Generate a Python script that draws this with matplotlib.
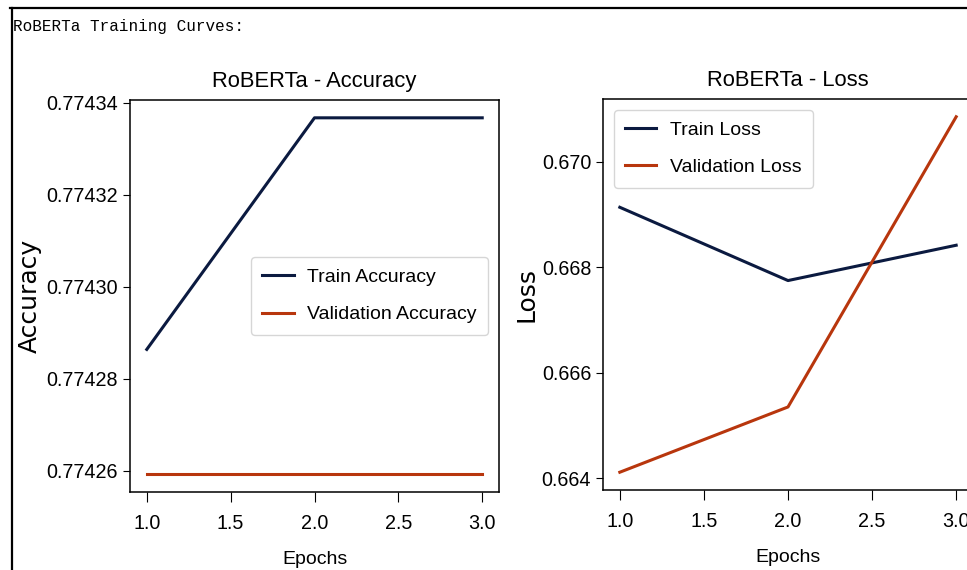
# -*- coding: utf-8 -*-
# RoBERTa training curves - accuracy and loss per epoch

import matplotlib
matplotlib.use('Agg')
import matplotlib.pyplot as plt
from matplotlib.lines import Line2D
from matplotlib.ticker import MultipleLocator, FormatStrFormatter

epochs = [1, 2, 3]

train_acc = [0.7742864, 0.7743367, 0.7743367]
val_acc = [0.7742593, 0.7742593, 0.7742593]

train_loss = [0.66914, 0.66775, 0.66842]
val_loss = [0.664114, 0.665352, 0.670857]

navy = '#0b1a40'
rust = '#b8360d'

plt.rcParams['font.family'] = ['Liberation Sans', 'DejaVu Sans']
plt.rcParams['font.size'] = 14

W, H = 967, 570
fig = plt.figure(figsize=(W / 100, H / 100), dpi=100)

# axes placed in pixel terms (right panel is cut off like the screenshot)
ax1 = fig.add_axes([130 / W, 1 - 492 / H, 369 / W, 392 / H])
ax2 = fig.add_axes([603 / W, 1 - 490 / H, 370 / W, 391 / H])

leg_kw = dict(handlelength=1.6, handletextpad=0.7, fontsize=14, labelspacing=1.0,
              borderpad=0.6, borderaxespad=0.55)

ax1.plot(epochs, train_acc, color=navy, lw=2.2, label='Train Accuracy')
ax1.plot(epochs, val_acc, color=rust, lw=2.2, label='Validation Accuracy')
ax1.set_title('RoBERTa - Accuracy', fontsize=15.8, pad=9)
ax1.set_xlabel('Epochs', fontsize=14, labelpad=13)
ax1.set_ylabel('Accuracy', fontsize=18, family='DejaVu Sans')
ax1.yaxis.set_major_locator(MultipleLocator(0.00002))
ax1.yaxis.set_major_formatter(FormatStrFormatter('%.5f'))
ax1.legend(loc='center right', **leg_kw)
ax1.yaxis.set_label_coords(-0.2385, 0.5)

ax2.plot(epochs, train_loss, color=navy, lw=2.2, label='Train Loss')
ax2.plot(epochs, val_loss, color=rust, lw=2.2, label='Validation Loss')
ax2.set_title('RoBERTa - Loss', fontsize=15.8, pad=9)
ax2.set_xlabel('Epochs', fontsize=14, labelpad=13)
ax2.set_ylabel('Loss', fontsize=18, family='DejaVu Sans')
ax2.yaxis.set_major_locator(MultipleLocator(0.002))
ax2.yaxis.set_major_formatter(FormatStrFormatter('%.3f'))
ax2.legend(loc='upper left', **leg_kw)
ax2.yaxis.set_label_coords(-0.173, 0.5)

for ax in (ax1, ax2):
    ax.xaxis.set_major_locator(MultipleLocator(0.5))
    ax.tick_params(axis='x', length=7, pad=8.5, labelsize=14.2)
    ax.tick_params(axis='y', length=5, labelsize=14.2)
    for s in ax.spines.values():
        s.set_linewidth(1.1)

# notebook-style header and frame
fig.text(13 / W, 1 - 31 / H, 'RoBERTa Training Curves:', family='Liberation Mono',
         fontsize=11.5, va='baseline', ha='left')
fig.add_artist(Line2D([10 / W, 1], [1 - 8 / H, 1 - 8 / H], color='black', lw=1.6,
                      transform=fig.transFigure))
fig.add_artist(Line2D([11.5 / W, 11.5 / W], [0, 1 - 8 / H], color='black', lw=1.6,
                      transform=fig.transFigure))

fig.savefig('out.png', dpi=100)
